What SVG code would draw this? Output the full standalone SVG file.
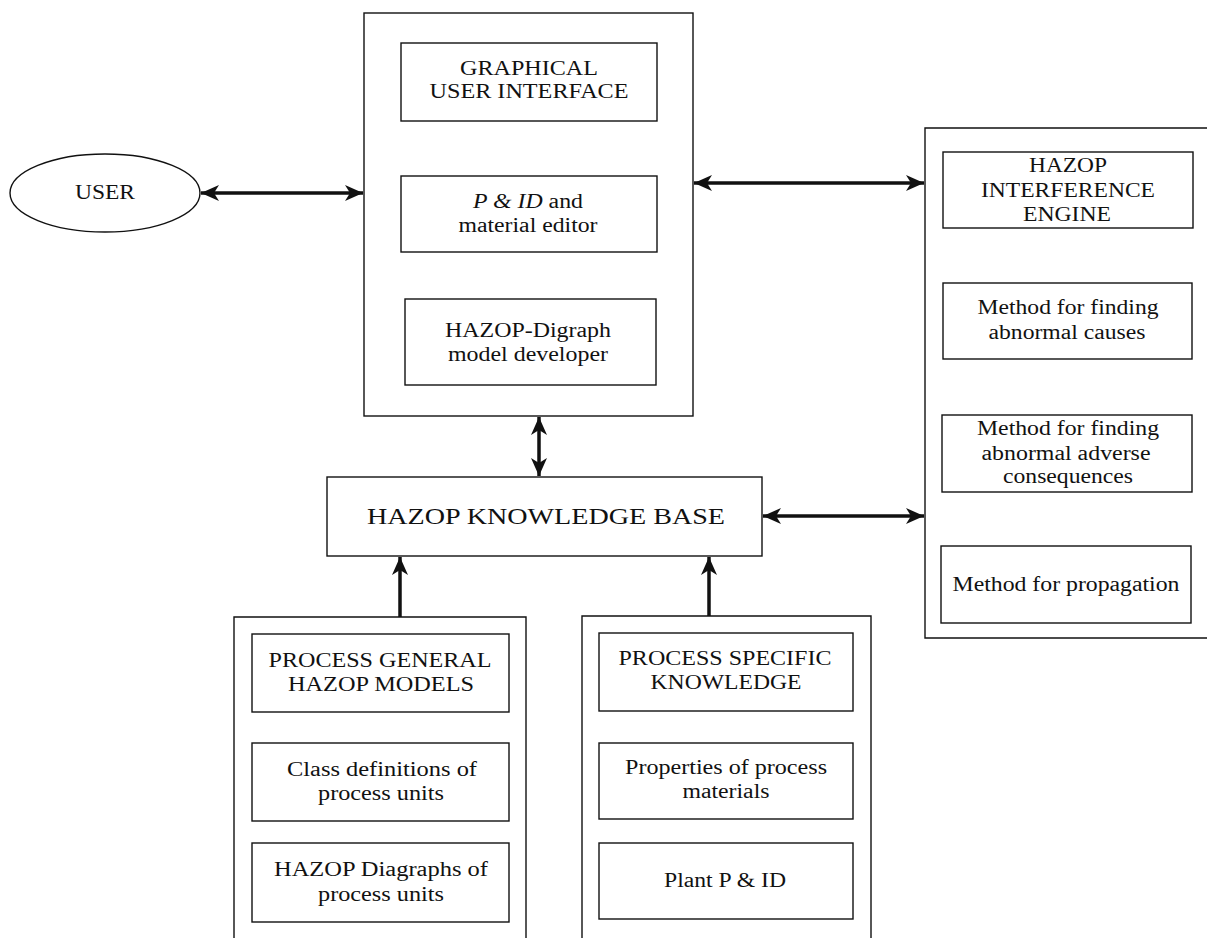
<svg xmlns="http://www.w3.org/2000/svg" width="1207" height="938" viewBox="0 0 1207 938">
  <style>
    .box { fill: none; stroke: #111; stroke-width: 1.4; }
    .lbl { font-family: "Liberation Serif", "Times New Roman", serif; font-size: 20px; fill: #111; text-anchor: middle; }
    .big { font-size: 23px; }
    .link { stroke: #111; stroke-width: 3.5; fill: none; }
  </style>
  <defs>
    <marker id="head" markerUnits="userSpaceOnUse" markerWidth="20" markerHeight="16" refX="18" refY="8" orient="auto-start-reverse">
      <path d="M0,0 L18,8 L0,16 L5,8 Z" fill="#111"/>
    </marker>
  </defs>
  <rect width="1207" height="938" fill="#fff"/>

  <!-- user -->
  <g id="user">
    <ellipse class="box" cx="105" cy="193" rx="95" ry="39"/>
    <text class="lbl" x="105" y="199" textLength="60" lengthAdjust="spacingAndGlyphs">USER</text>
  </g>

  <!-- front-end group: GUI, editor, model developer -->
  <g id="frontend">
    <rect class="box" x="364" y="13" width="329" height="403"/>
  </g>
  <g id="gui">
    <rect class="box" x="401" y="43" width="256" height="78"/>
    <text class="lbl" x="529" y="75" textLength="138" lengthAdjust="spacingAndGlyphs">GRAPHICAL</text>
    <text class="lbl" x="529" y="98" textLength="199" lengthAdjust="spacingAndGlyphs">USER INTERFACE</text>
  </g>
  <g id="editor">
    <rect class="box" x="401" y="176" width="256" height="76"/>
    <text class="lbl" x="528" y="208" textLength="110" lengthAdjust="spacingAndGlyphs"><tspan font-style="italic">P &amp; ID</tspan> and</text>
    <text class="lbl" x="528" y="232" textLength="139" lengthAdjust="spacingAndGlyphs">material editor</text>
  </g>
  <g id="digraph-dev">
    <rect class="box" x="405" y="299" width="251" height="86"/>
    <text class="lbl" x="528" y="337" textLength="166" lengthAdjust="spacingAndGlyphs">HAZOP-Digraph</text>
    <text class="lbl" x="528" y="361" textLength="160" lengthAdjust="spacingAndGlyphs">model developer</text>
  </g>

  <!-- knowledge base -->
  <g id="knowledge-base">
    <rect class="box" x="327" y="477" width="435" height="79"/>
    <text class="lbl big" x="546" y="524" textLength="358" lengthAdjust="spacingAndGlyphs">HAZOP KNOWLEDGE BASE</text>
  </g>

  <!-- inference engine group (open on the right) -->
  <g id="engine">
    <path class="box" d="M1207,128 H925 V638 H1207"/>
  </g>
  <g id="engine-title">
    <rect class="box" x="943" y="152" width="250" height="76"/>
    <text class="lbl" x="1068" y="172" textLength="78" lengthAdjust="spacingAndGlyphs">HAZOP</text>
    <text class="lbl" x="1068" y="197" textLength="174" lengthAdjust="spacingAndGlyphs">INTERFERENCE</text>
    <text class="lbl" x="1067" y="221" textLength="88" lengthAdjust="spacingAndGlyphs">ENGINE</text>
  </g>
  <g id="causes">
    <rect class="box" x="943" y="283" width="249" height="76"/>
    <text class="lbl" x="1068" y="314" textLength="181" lengthAdjust="spacingAndGlyphs">Method for finding</text>
    <text class="lbl" x="1067" y="339" textLength="157" lengthAdjust="spacingAndGlyphs">abnormal causes</text>
  </g>
  <g id="consequences">
    <rect class="box" x="942" y="415" width="250" height="77"/>
    <text class="lbl" x="1068" y="435" textLength="182" lengthAdjust="spacingAndGlyphs">Method for finding</text>
    <text class="lbl" x="1066" y="460" textLength="169" lengthAdjust="spacingAndGlyphs">abnormal adverse</text>
    <text class="lbl" x="1068" y="483" textLength="130" lengthAdjust="spacingAndGlyphs">consequences</text>
  </g>
  <g id="propagation">
    <rect class="box" x="941" y="546" width="250" height="77"/>
    <text class="lbl" x="1066" y="591" textLength="227" lengthAdjust="spacingAndGlyphs">Method for propagation</text>
  </g>

  <!-- process general models group (open at the bottom) -->
  <g id="general">
    <path class="box" d="M234,938 V617 H526 V938"/>
  </g>
  <g id="general-title">
    <rect class="box" x="252" y="634" width="257" height="78"/>
    <text class="lbl" x="380" y="667" textLength="223" lengthAdjust="spacingAndGlyphs">PROCESS GENERAL</text>
    <text class="lbl" x="381" y="691" textLength="186" lengthAdjust="spacingAndGlyphs">HAZOP MODELS</text>
  </g>
  <g id="class-defs">
    <rect class="box" x="252" y="743" width="257" height="78"/>
    <text class="lbl" x="382" y="776" textLength="190" lengthAdjust="spacingAndGlyphs">Class definitions of</text>
    <text class="lbl" x="381" y="800" textLength="126" lengthAdjust="spacingAndGlyphs">process units</text>
  </g>
  <g id="unit-digraphs">
    <rect class="box" x="252" y="843" width="257" height="79"/>
    <text class="lbl" x="381" y="876" textLength="214" lengthAdjust="spacingAndGlyphs">HAZOP Diagraphs of</text>
    <text class="lbl" x="381" y="901" textLength="126" lengthAdjust="spacingAndGlyphs">process units</text>
  </g>

  <!-- process specific knowledge group (open at the bottom) -->
  <g id="specific">
    <path class="box" d="M582,938 V616 H871 V938"/>
  </g>
  <g id="specific-title">
    <rect class="box" x="599" y="633" width="254" height="78"/>
    <text class="lbl" x="725" y="665" textLength="213" lengthAdjust="spacingAndGlyphs">PROCESS SPECIFIC</text>
    <text class="lbl" x="726" y="689" textLength="151" lengthAdjust="spacingAndGlyphs">KNOWLEDGE</text>
  </g>
  <g id="materials">
    <rect class="box" x="599" y="743" width="254" height="76"/>
    <text class="lbl" x="726" y="774" textLength="202" lengthAdjust="spacingAndGlyphs">Properties of process</text>
    <text class="lbl" x="726" y="798" textLength="87" lengthAdjust="spacingAndGlyphs">materials</text>
  </g>
  <g id="plant">
    <rect class="box" x="599" y="843" width="254" height="76"/>
    <text class="lbl" x="725" y="887" textLength="122" lengthAdjust="spacingAndGlyphs">Plant P &amp; ID</text>
  </g>

  <!-- connectors -->
  <g id="connectors">
    <line class="link" x1="201" y1="193" x2="363" y2="193" marker-start="url(#head)" marker-end="url(#head)"/>
    <line class="link" x1="694" y1="183" x2="924" y2="183" marker-start="url(#head)" marker-end="url(#head)"/>
    <line class="link" x1="539" y1="417" x2="539" y2="476" marker-start="url(#head)" marker-end="url(#head)"/>
    <line class="link" x1="763" y1="516" x2="924" y2="516" marker-start="url(#head)" marker-end="url(#head)"/>
    <line class="link" x1="400" y1="617" x2="400" y2="557" marker-end="url(#head)"/>
    <line class="link" x1="709" y1="616" x2="709" y2="557" marker-end="url(#head)"/>
  </g>
</svg>
